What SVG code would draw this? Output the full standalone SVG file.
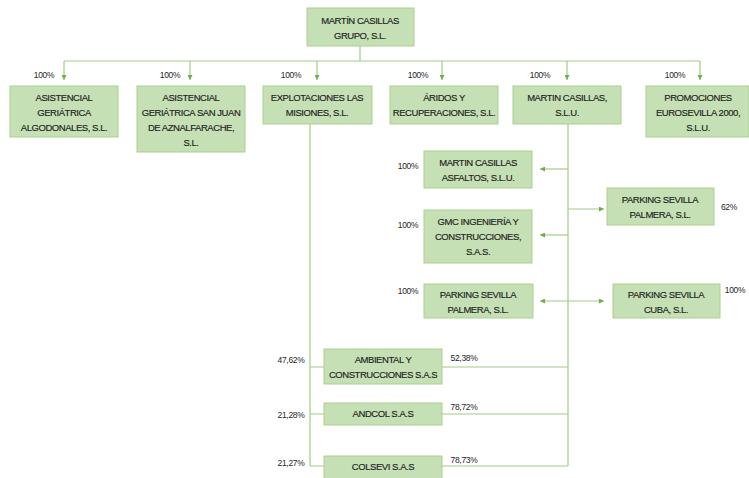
<svg xmlns="http://www.w3.org/2000/svg" width="749" height="478" viewBox="0 0 749 478">
<defs>
<style>
.box{fill:#c5e0b4;stroke:#a9d08e;stroke-width:1}
.t{font-family:"Liberation Sans",Arial,sans-serif;font-size:9.5px;letter-spacing:-0.45px;fill:#222222;stroke:#222222;stroke-width:0.15px;text-anchor:middle}
.p{font-family:"Liberation Sans",Arial,sans-serif;font-size:8.5px;letter-spacing:-0.3px;fill:#262626;text-anchor:middle}
.ln{stroke:#a2cc87;stroke-width:1.2;fill:none}
.ar{marker-end:url(#ah)}
.dar{marker-start:url(#ah);marker-end:url(#ah)}
</style>
<marker id="ah" viewBox="0 0 6 6" refX="6" refY="3" markerWidth="5" markerHeight="5" orient="auto-start-reverse" markerUnits="userSpaceOnUse">
<path d="M0,0 L6,3 L0,6 z" fill="#70ad47"/>
</marker>
</defs>
<rect width="749" height="478" fill="#ffffff"/>
<g id="connectors">
<path class="ln" d="M360,46 V61 M64,61 H700"/>
<path class="ln ar" d="M64,61 V80"/>
<path class="ln ar" d="M190,61 V80"/>
<path class="ln ar" d="M317,61 V80"/>
<path class="ln ar" d="M442,61 V80"/>
<path class="ln ar" d="M567,61 V80"/>
<path class="ln ar" d="M700,61 V80"/>
<path class="ln" d="M310,124 V466 M568,124 V466"/>
<path class="ln ar" d="M568,169 H540"/>
<path class="ln ar" d="M568,235 H540"/>
<path class="ln ar" d="M568,209 H604"/>
<path class="ln dar" d="M540,301 H604"/>
<path class="ln" d="M310,367 H324 M442,367 H568"/>
<path class="ln" d="M310,414 H324 M442,414 H568"/>
<path class="ln" d="M310,466 H324 M442,466 H568"/>
</g>
<g id="n-grupo"><rect class="box" x="307" y="8" width="107" height="38"/><text class="t" x="360" y="24">MARTÍN CASILLAS</text><text class="t" x="360" y="39">GRUPO, S.L.</text></g>
<g id="n-algodonales"><rect class="box" x="10" y="86" width="108" height="51"/><text class="p" x="44" y="78">100%</text><text class="t" x="64" y="101">ASISTENCIAL</text><text class="t" x="64" y="116">GERIÁTRICA</text><text class="t" x="64" y="131">ALGODONALES, S.L.</text></g>
<g id="n-sanjuan"><rect class="box" x="137" y="86" width="108" height="66"/><text class="p" x="170" y="78">100%</text><text class="t" x="191" y="101">ASISTENCIAL</text><text class="t" x="191" y="116">GERIÁTRICA SAN JUAN</text><text class="t" x="191" y="131">DE AZNALFARACHE,</text><text class="t" x="191" y="146">S.L.</text></g>
<g id="n-misiones"><rect class="box" x="263" y="86" width="109" height="38"/><text class="p" x="291" y="78">100%</text><text class="t" x="317" y="101">EXPLOTACIONES LAS</text><text class="t" x="317" y="116">MISIONES, S.L.</text></g>
<g id="n-aridos"><rect class="box" x="390" y="86" width="108" height="38"/><text class="p" x="418" y="78">100%</text><text class="t" x="444" y="101">ÁRIDOS Y</text><text class="t" x="444" y="116">RECUPERACIONES, S.L.</text></g>
<g id="n-mcslu"><rect class="box" x="513" y="86" width="108" height="38"/><text class="p" x="540" y="78">100%</text><text class="t" x="567" y="101">MARTIN CASILLAS,</text><text class="t" x="567" y="116">S.L.U.</text></g>
<g id="n-eurosevilla"><rect class="box" x="646" y="86" width="103" height="51"/><text class="p" x="675" y="78">100%</text><text class="t" x="698" y="101">PROMOCIONES</text><text class="t" x="698" y="116">EUROSEVILLA 2000,</text><text class="t" x="698" y="131">S.L.U.</text></g>
<g id="n-asfaltos"><rect class="box" x="424" y="151" width="108" height="37"/><text class="p" x="408" y="169">100%</text><text class="t" x="478" y="166">MARTIN CASILLAS</text><text class="t" x="478" y="181">ASFALTOS, S.L.U.</text></g>
<g id="n-gmc"><rect class="box" x="424" y="210" width="108" height="53"/><text class="p" x="408" y="228">100%</text><text class="t" x="478" y="225">GMC INGENIERÍA Y</text><text class="t" x="478" y="240">CONSTRUCCIONES,</text><text class="t" x="478" y="255">S.A.S.</text></g>
<g id="n-palmera-r"><rect class="box" x="607" y="188" width="107" height="37"/><text class="p" x="729" y="210">62%</text><text class="t" x="660" y="203">PARKING SEVILLA</text><text class="t" x="660" y="218">PALMERA, S.L.</text></g>
<g id="n-palmera-l"><rect class="box" x="424" y="284" width="109" height="34"/><text class="p" x="408" y="294">100%</text><text class="t" x="478" y="298">PARKING SEVILLA</text><text class="t" x="478" y="313">PALMERA, S.L.</text></g>
<g id="n-cuba"><rect class="box" x="613" y="284" width="107" height="34"/><text class="p" x="735" y="293">100%</text><text class="t" x="666" y="298">PARKING SEVILLA</text><text class="t" x="666" y="313">CUBA, S.L.</text></g>
<g id="n-ambiental"><rect class="box" x="324" y="349" width="118" height="35"/><text class="p" x="291" y="363">47,62%</text><text class="p" x="464" y="361">52,38%</text><text class="t" x="383" y="363">AMBIENTAL Y</text><text class="t" x="383" y="378">CONSTRUCCIONES S.A.S</text></g>
<g id="n-andcol"><rect class="box" x="324" y="403" width="118" height="22"/><text class="p" x="291" y="418">21,28%</text><text class="p" x="464" y="410">78,72%</text><text class="t" x="383" y="417">ANDCOL S.A.S</text></g>
<g id="n-colsevi"><rect class="box" x="324" y="456" width="118" height="26"/><text class="p" x="291" y="466">21,27%</text><text class="p" x="464" y="463">78,73%</text><text class="t" x="383" y="470">COLSEVI S.A.S</text></g>
</svg>
